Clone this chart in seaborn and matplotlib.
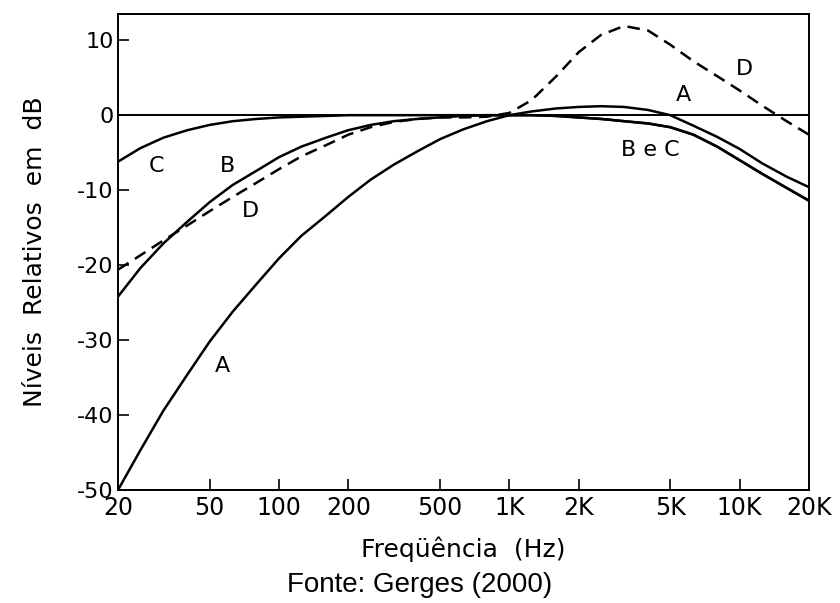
import numpy as np
import pandas as pd
import matplotlib
matplotlib.use('Agg')
import matplotlib.pyplot as plt
import seaborn as sns

sns.set_style('white')
plt.rcParams['font.family'] = ['DejaVu Sans']
plt.rcParams['axes.unicode_minus'] = False
for k in ['text.color', 'axes.labelcolor', 'xtick.color', 'ytick.color']:
    plt.rcParams[k] = 'black'

# third-octave centre frequencies (Hz)
freq = [20, 25, 31.5, 40, 50, 63, 80, 100, 125, 160, 200, 250, 315, 400, 500, 630, 800,
        1000, 1250, 1600, 2000, 2500, 3150, 4000, 5000, 6300, 8000, 10000, 12500, 16000, 20000]

# relative levels (dB)
curve_a = [-50.0, -44.7, -39.4, -34.6, -30.2, -26.2, -22.5, -19.1, -16.1, -13.4, -10.9, -8.6, -6.6, -4.8, -3.2, -1.9, -0.8,
           0.0, 0.5, 0.9, 1.1, 1.2, 1.1, 0.7, 0.0, -1.4, -2.9, -4.5, -6.4, -8.2, -9.6]
curve_b = [-24.2, -20.4, -17.1, -14.2, -11.6, -9.3, -7.4, -5.6, -4.2, -3.0, -2.0, -1.3, -0.8, -0.5, -0.3, -0.1, 0.0,
           0.0, 0.0, -0.1, -0.3, -0.5, -0.8, -1.1, -1.6, -2.6, -4.2, -6.0, -7.8, -9.7, -11.4]
curve_c = [-6.2, -4.4, -3.0, -2.0, -1.3, -0.8, -0.5, -0.3, -0.2, -0.1, 0.0, 0.0, 0.0, 0.0, 0.0, 0.0, 0.0,
           0.0, 0.0, -0.1, -0.3, -0.5, -0.8, -1.1, -1.6, -2.6, -4.2, -6.0, -7.8, -9.7, -11.4]
curve_d = [-20.6, -18.7, -16.7, -14.7, -12.8, -10.9, -9.0, -7.2, -5.5, -4.0, -2.6, -1.6, -0.9, -0.5, -0.3, -0.3, -0.2,
           0.3, 2.0, 5.2, 8.4, 10.7, 11.9, 11.3, 9.4, 7.2, 5.2, 3.3, 1.3, -0.8, -2.6]

xticks = [20, 50, 100, 200, 500, 1000, 2000, 5000, 10000, 20000]
xtick_labels = ['20', '50', '100', '200', '500', '1K', '2K', '5K', '10K', '20K']
yticks = [-50, -40, -30, -20, -10, 0, 10]

# curve labels: text, freq, dB
labels = [('C', 29.3, -6.8), ('B', 60, -6.8), ('D', 75, -12.8), ('A', 57, -33.4),
          ('A', 5730, 2.7), ('D', 10500, 6.2), ('B e C', 4100, -4.7)]

df = pd.DataFrame({'freq': freq, 'A': curve_a, 'B': curve_b, 'C': curve_c, 'D': curve_d})

fig = plt.figure(figsize=(8.4, 6.03), dpi=100)
ax = fig.add_axes([0.1405, 0.1874, 0.8225, 0.7894])

ax.axhline(0, color='black', lw=1.4, zorder=1)
for name in ['A', 'B', 'C']:
    sns.lineplot(data=df, x='freq', y=name, ax=ax, color='black', lw=1.8)
sns.lineplot(data=df, x='freq', y='D', ax=ax, color='black', lw=1.8)
ax.lines[-1].set_dashes((5, 3))

ax.set_xscale('log')
ax.set_xlim(20, 20000)
ax.set_ylim(-50, 13.5)
ax.set_xticks(xticks)
ax.set_xticklabels(xtick_labels)
ax.minorticks_off()
ax.set_yticks(yticks)
ax.tick_params(axis='both', which='major', direction='in', length=8, width=1.2,
               color='black', bottom=True, left=True)
ax.tick_params(axis='x', labelsize=17, pad=4)
ax.tick_params(axis='y', labelsize=16, pad=3)
for t in [ax.xaxis.get_major_ticks()[0], ax.xaxis.get_major_ticks()[-1]]:
    t.tick1line.set_visible(False)
ax.yaxis.get_major_ticks()[0].tick1line.set_visible(False)

for s in ax.spines.values():
    s.set_color('black')
    s.set_linewidth(1.4)

ax.set_xlabel('Freqüência  (Hz)', fontsize=18, labelpad=12)
ax.set_ylabel('Níveis  Relativos  em  dB', fontsize=18, labelpad=22)

for txt, fx, fy in labels:
    ax.text(fx, fy, txt, fontsize=16, ha='center', va='center')

fig.text(0.5, 0.03, 'Fonte: Gerges (2000)', fontsize=20, ha='center', va='center',
         family=['Liberation Sans', 'DejaVu Sans'])

fig.savefig('out.png', dpi=100)
